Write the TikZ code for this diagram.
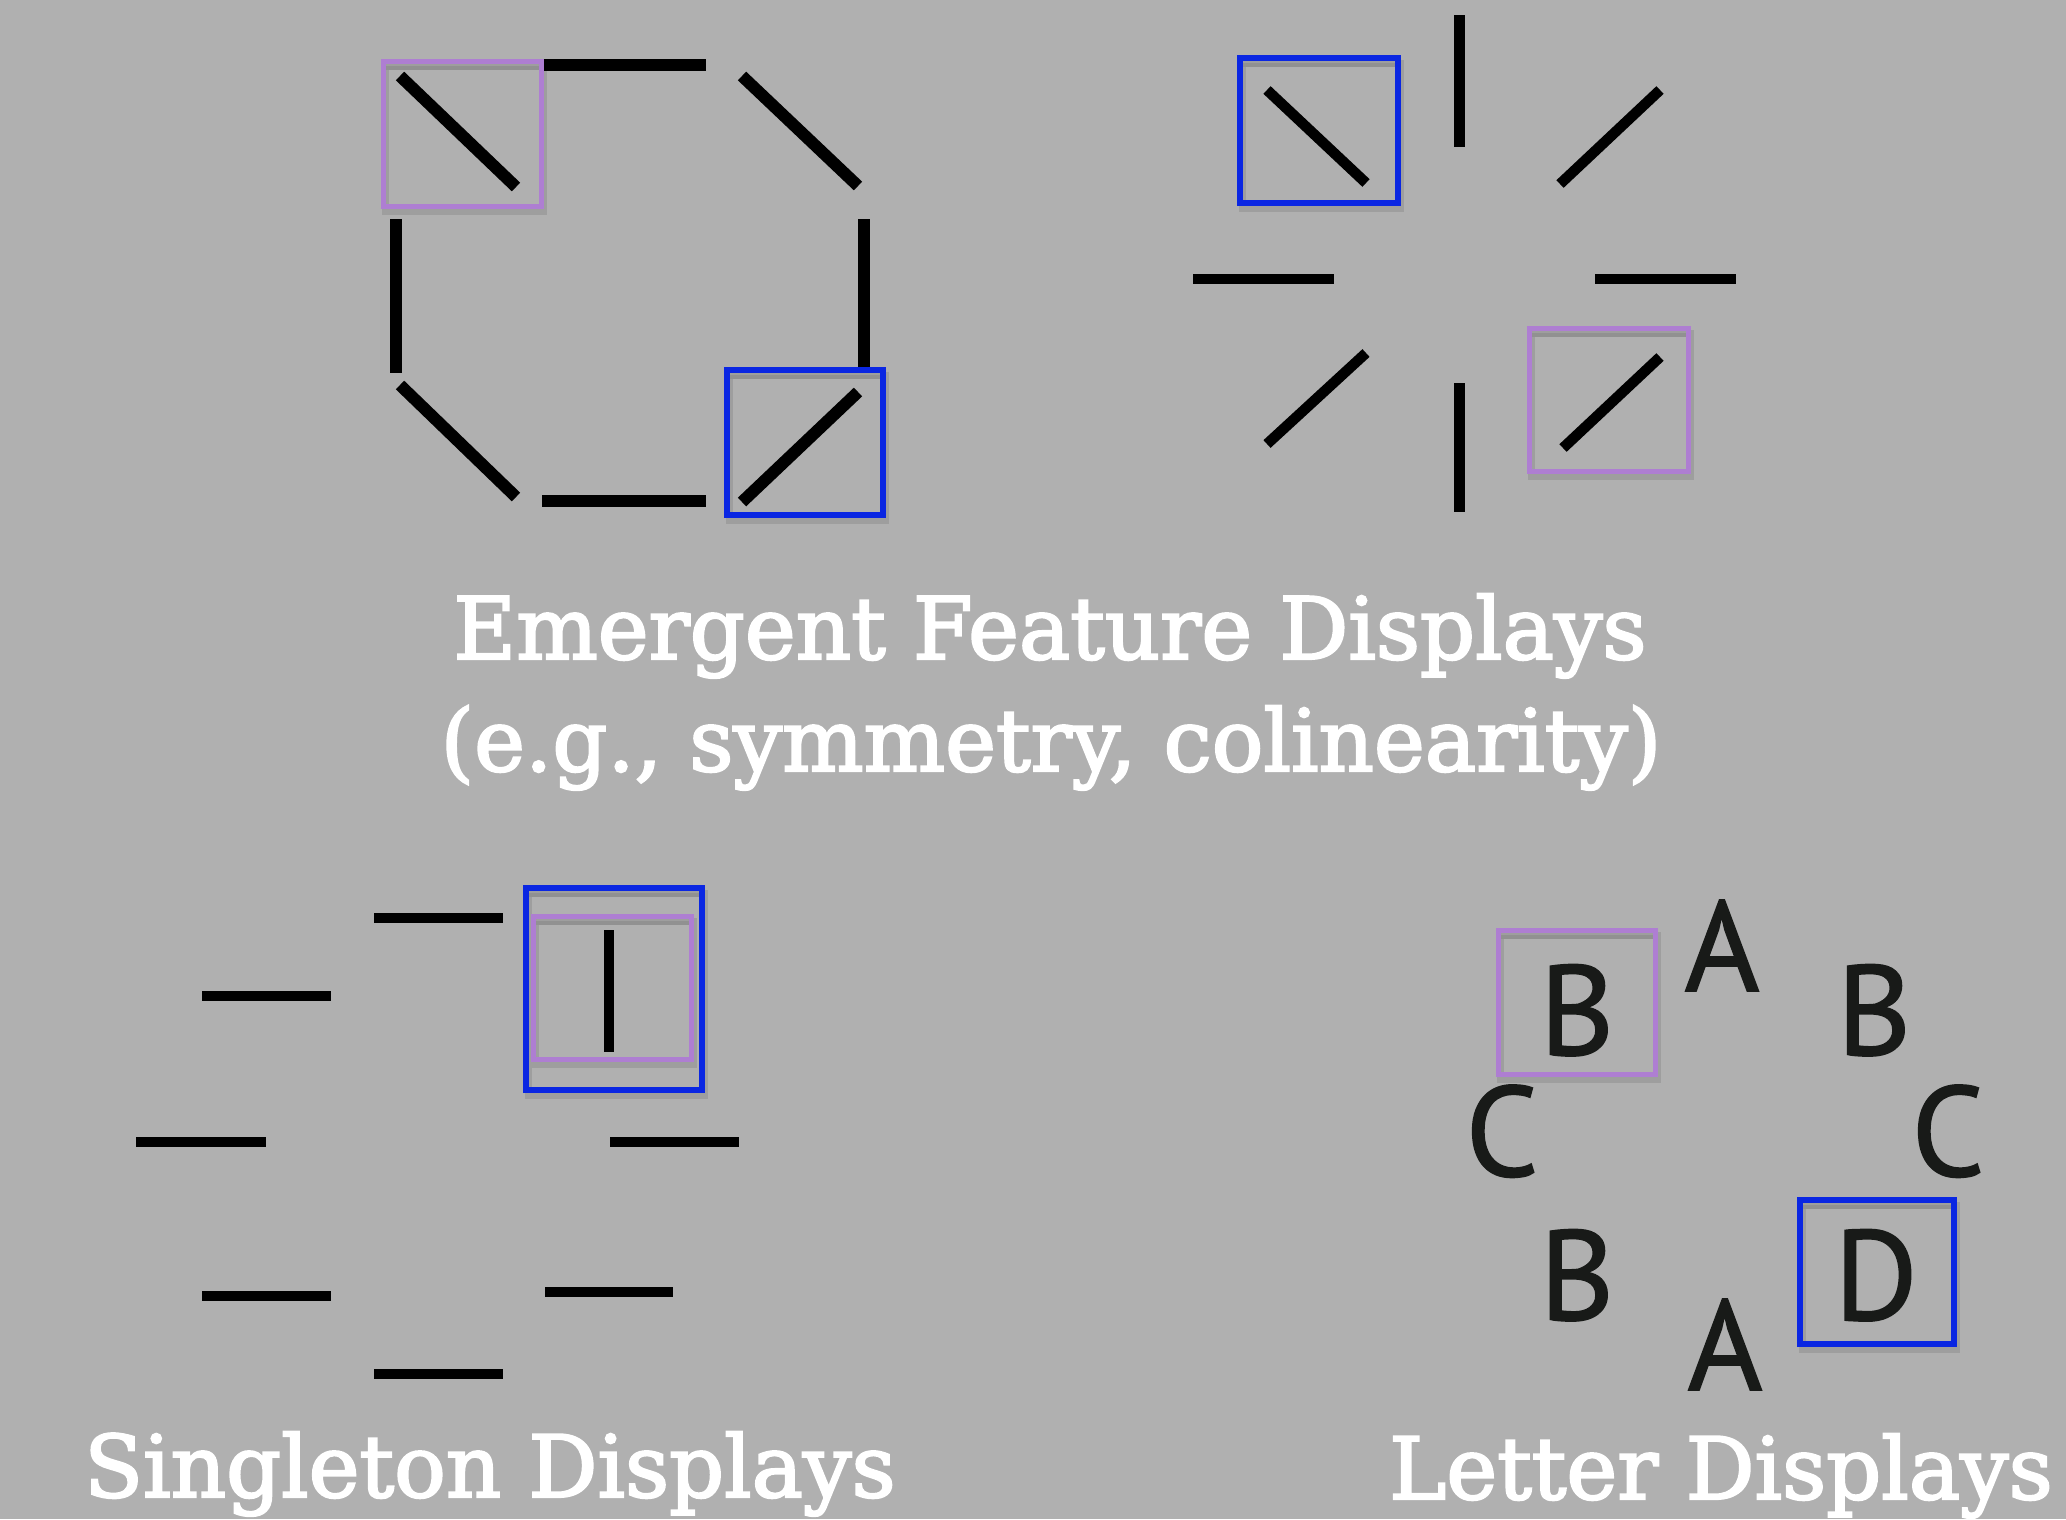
\documentclass[tikz,border=0pt]{standalone}
\usepackage{fontspec}
\usetikzlibrary{calc}
\newfontfamily\titlefont[FakeBold=2.5]{DejaVu Serif}
\newfontfamily\letterfont[FakeBold=1.2]{PT Sans}
\definecolor{bg}{RGB}{176,176,176}
\definecolor{boxpurple}{RGB}{174,126,210}
\definecolor{boxblue}{RGB}{10,38,226}
\definecolor{ink}{RGB}{24,26,24}
\begin{document}
\begin{tikzpicture}[x=1pt,y=-1pt,
  seg/.style={line width=12pt,black},
  segthin/.style={line width=10.5pt,black},
  pbox/.style={line width=5pt,draw=boxpurple},
  bbox/.style={line width=5.5pt,draw=boxblue},
  title/.style={text=white,font=\titlefont\fontsize{86}{100}\selectfont,inner sep=0pt,anchor=base},
  letter/.style={text=ink,font=\letterfont\fontsize{128}{140}\selectfont,inner sep=0pt,anchor=base}]
\fill[bg] (0,0) rectangle (2066,1519);
\useasboundingbox (0,0) rectangle (2066,1519);
% soft shadow of a frame: #1 = upper left corner name, #2 = lower right corner name
\newcommand\frameshadow[2]{%
  \draw[line width=7pt,black,opacity=0.10] ($(#1)+(2,5)$) rectangle ($(#2)+(2,5)$);
  \draw[line width=4pt,black,opacity=0.08] ($(#1)+(0,7)$) -- ($(#2|-#1)+(0,7)$);}

% ---------- Emergent feature display 1 (octagon) ----------
\draw[seg] (541,65) -- (706,65);
\draw[seg] (742,76) -- (858,186);
\draw[seg] (863.5,219) -- (863.5,368);
\draw[seg] (396,219) -- (396,373);
\draw[seg] (400,385) -- (516,497);
\draw[seg] (542,501) -- (706,501);
\draw[seg] (400,76) -- (516,187);
\draw[seg] (742,502) -- (858,392);
\path (383,61) coordinate (pa1) (541,206) coordinate (pa2);
\path (727,370) coordinate (ba1) (883,515) coordinate (ba2);

% ---------- Emergent feature display 2 (star) ----------
\draw[segthin] (1459.5,15) -- (1459.5,147);
\draw[segthin] (1267,90) -- (1366,183);
\draw[segthin] (1660,90) -- (1560,184);
\draw[segthin] (1193,279) -- (1334,279);
\draw[segthin] (1595,279) -- (1736,279);
\draw[segthin] (1366,353) -- (1267,444);
\draw[segthin] (1459.5,383) -- (1459.5,512);
\draw[segthin] (1660,357) -- (1563,448);
\path (1240,58) coordinate (bb1) (1398,203) coordinate (bb2);
\path (1529,328) coordinate (pb1) (1688,471) coordinate (pb2);

% ---------- Singleton display ----------
\draw[segthin] (374,918) -- (503,918);
\draw[segthin] (202,996) -- (331,996);
\draw[segthin] (136,1142) -- (266,1142);
\draw[segthin] (610,1142) -- (739,1142);
\draw[segthin] (202,1296) -- (331,1296);
\draw[segthin] (545,1292) -- (673,1292);
\draw[segthin] (374,1374) -- (503,1374);
\draw[line width=9.5pt,black] (609,930) -- (609,1052);
\path (533,916) coordinate (pc1) (691,1059) coordinate (pc2);
\path (526,888) coordinate (bc1) (702,1090) coordinate (bc2);

% ---------- Letter display ----------
\node[letter] (l1) at (1577,1055) {B};
\node[letter] (l2) at (1722,991) {A};
\node[letter] (l3) at (1874,1055) {B};
\node[letter] (l4) at (1502,1176) {C};
\node[letter] (l5) at (1948,1176) {C};
\node[letter] (l6) at (1577,1320) {B};
\node[letter] (l7) at (1876,1320) {D};
\node[letter] (l8) at (1725,1390) {A};
\path (1498,930) coordinate (pd1) (1655,1074) coordinate (pd2);
\path (1800,1200) coordinate (bd1) (1954,1344) coordinate (bd2);

% ---------- frames ----------
\foreach \a/\b in {pa1/pa2,ba1/ba2,bb1/bb2,pb1/pb2,pc1/pc2,bc1/bc2,pd1/pd2,bd1/bd2}
  {\frameshadow{\a}{\b}}
\draw[pbox] (pa1) rectangle (pa2);
\draw[bbox] (ba1) rectangle (ba2);
\draw[bbox] (bb1) rectangle (bb2);
\draw[pbox] (pb1) rectangle (pb2);
\draw[pbox] (pc1) rectangle (pc2);
\draw[bbox] (bc1) rectangle (bc2);
\draw[pbox] (pd1) rectangle (pd2);
\draw[bbox] (bd1) rectangle (bd2);

% ---------- Titles ----------
\node[title] (t1) at (1050,659) {Emergent Feature Displays};
\node[title] (t2) at (1051,771) {(e.g., symmetry, colinearity)};
\node[title] (t3) at (490,1497) {Singleton Displays};
\node[title] (t4) at (1721,1499) {Letter Displays};
\end{tikzpicture}
\end{document}
